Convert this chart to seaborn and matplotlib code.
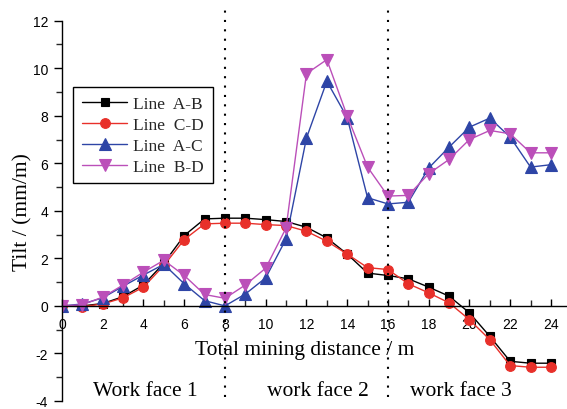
import matplotlib
matplotlib.use("Agg")
import matplotlib.pyplot as plt
from matplotlib.ticker import MultipleLocator
import numpy as np
import pandas as pd
import seaborn as sns

# Mining distance (m) at each survey step
distance = list(range(0, 25))

# Tilt (mm/m) along each survey line
tilt_ab = [0.0, 0.0, 0.1, 0.39, 0.88, 1.8, 2.96, 3.66, 3.69, 3.69, 3.63, 3.55, 3.31,
           2.86, 2.18, 1.38, 1.28, 1.14, 0.79, 0.41, -0.29, -1.28, -2.33, -2.41, -2.41]
tilt_cd = [0.0, -0.03, 0.08, 0.34, 0.79, 1.7, 2.79, 3.45, 3.48, 3.48, 3.42, 3.38, 3.14,
           2.72, 2.18, 1.61, 1.53, 0.93, 0.55, 0.13, -0.58, -1.42, -2.51, -2.58, -2.58]
tilt_ac = [0.0, 0.08, 0.34, 0.83, 1.3, 1.75, 0.93, 0.22, 0.0, 0.5, 1.18, 2.82, 7.06,
           9.45, 7.92, 4.55, 4.29, 4.36, 5.8, 6.68, 7.52, 7.9, 7.1, 5.84, 5.94]
tilt_bd = [0.0, 0.05, 0.37, 0.88, 1.42, 1.92, 1.28, 0.48, 0.32, 0.88, 1.59, 3.28, 9.77,
           10.36, 7.99, 5.84, 4.62, 4.65, 5.56, 6.16, 7.0, 7.38, 7.24, 6.44, 6.44]

series_names = ["Line  A-B", "Line  C-D", "Line  A-C", "Line  B-D"]
series_values = [tilt_ab, tilt_cd, tilt_ac, tilt_bd]

# Working face boundaries and labels
face_bounds = [8, 16]
face_labels = ["Work face 1", "work face 2", "work face 3"]
face_centers = [4.11, 12.54, 19.57]

x_ticks = list(range(0, 25, 2))
y_ticks = list(range(-4, 13, 2))

df = pd.DataFrame({
    "distance": distance * len(series_names),
    "tilt": sum(series_values, []),
    "line": sum([[n] * len(distance) for n in series_names], []),
})

sns.set_theme(style="ticks")
serif = ["Liberation Serif", "DejaVu Serif"]
sans = ["Liberation Sans", "DejaVu Sans"]
plt.rcParams["font.family"] = sans
plt.rcParams["axes.unicode_minus"] = False

colors = ["#000000", "#e8302a", "#2e45a6", "#bb4fb9"]
markers = ["s", "o", "^", "v"]
msizes = [5.5, 7, 8, 8]

fig = plt.figure(figsize=(5.67, 4.10), dpi=100)
ax = fig.add_axes([62 / 567, 8 / 410, 504 / 567, 397 / 410])

for name, col, mk, ms in zip(series_names, colors, markers, msizes):
    sns.lineplot(data=df[df["line"] == name], x="distance", y="tilt",
                 color=col, marker=mk, markersize=ms, markeredgecolor=col,
                 markeredgewidth=0.8, linewidth=1.0, label=name, ax=ax,
                 errorbar=None)

ax.set_xlim(0, 24.74)
ax.set_ylim(-4, 12.7)

# Section boundaries
ax.vlines(face_bounds, -3.85, 12.5, colors="black", linewidth=1.5,
          linestyles=[(0, (1, 3.5))])

ax.spines["top"].set_visible(False)
ax.spines["right"].set_visible(False)
ax.spines["bottom"].set_position(("data", 0))
ax.spines["left"].set_bounds(-4, 12)
for s in ("left", "bottom"):
    ax.spines[s].set_linewidth(1.0)
    ax.spines[s].set_color("black")

ax.set_xticks(x_ticks)
ax.set_yticks(y_ticks)
ax.xaxis.set_minor_locator(MultipleLocator(1))
ax.yaxis.set_minor_locator(MultipleLocator(1))
ax.tick_params(axis="x", which="major", direction="in", length=5, width=1,
               pad=8, labelsize=10, colors="black")
ax.tick_params(axis="x", which="minor", direction="in", length=4, width=1)
ax.tick_params(axis="y", which="major", direction="out", length=6, width=1,
               pad=4, labelsize=10, colors="black")
ax.tick_params(axis="y", which="minor", direction="out", length=4, width=1)

ax.set_xlabel("")
ax.set_ylabel("Tilt / (mm/m)", family=serif, fontsize=15.5, color="black")
ax.yaxis.set_label_coords(-0.059, (402 - 212) / 397)

ax.text(11.93, -2.02, "Total mining distance / m", family=serif, fontsize=15.5,
        ha="center", va="baseline", color="black")
for label, xc in zip(face_labels, face_centers):
    ax.text(xc, -3.75, label, family=serif, fontsize=15.5, ha="center",
            va="baseline", color="black")

leg = ax.legend(loc="upper left", bbox_to_anchor=(0.0224, 0.790),
                borderaxespad=0, fancybox=False, frameon=True,
                edgecolor="black", framealpha=1, handlelength=2.6,
                handletextpad=0.35, labelspacing=0.27, borderpad=0.5,
                prop={"family": serif, "size": 12.5})
leg.get_frame().set_linewidth(1.0)

fig.savefig("out.png", dpi=100)
